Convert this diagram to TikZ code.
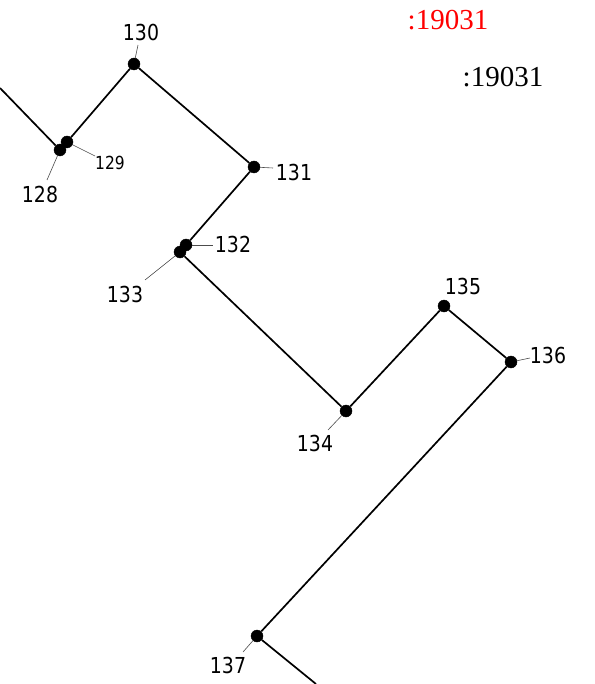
\documentclass[tikz,border=0pt]{standalone}
\usepackage{fontspec}
\setmainfont{Liberation Serif}
\newfontfamily\labelfont[FakeStretch=0.86]{DejaVu Sans}
\begin{document}
\begin{tikzpicture}[x=1pt,y=-1pt]
		\tikzset{vertex/.style = {shape=circle,draw, inner sep = 0pt, minimum size = 12pt, fill=black}}
		\tikzset{num/.style = {inner sep = 0pt, font=\labelfont\fontsize{22}{22}\selectfont}}
		\tikzset{smallnum/.style = {inner sep = 0pt, font=\labelfont\fontsize{18}{18}\selectfont}}
		\tikzset{leader/.style = {draw=black!70, line width=0.6pt}}
		\tikzset{edge/.style = {line width=1.7pt}}

		\useasboundingbox (0,0) rectangle (594,684);

		\node[vertex] (P_128) at (60,150) {};
		\node[vertex] (P_129) at (67,142) {};
		\node[vertex] (P_130) at (134,64) {};
		\node[vertex] (P_131) at (254,167) {};
		\node[vertex] (P_132) at (186,245) {};
		\node[vertex] (P_133) at (180,252) {};
		\node[vertex] (P_134) at (346,411) {};
		\node[vertex] (P_135) at (444,306) {};
		\node[vertex] (P_136) at (511,362) {};
		\node[vertex] (P_137) at (257,636) {};

		\coordinate (In) at (0,88);
		\coordinate (Out) at (316,684);

		\node[num] (L_128) at (40,194) {128};
		\node[smallnum] (L_129) at (110,163) {129};
		\node[num] (L_130) at (141,32) {130};
		\node[num] (L_131) at (294,172) {131};
		\node[num] (L_132) at (233,244) {132};
		\node[num] (L_133) at (125,294) {133};
		\node[num] (L_134) at (315,443) {134};
		\node[num] (L_135) at (463,286) {135};
		\node[num] (L_136) at (548,355) {136};
		\node[num] (L_137) at (228,665) {137};

		\coordinate (E_128) at (47,180);
		\coordinate (E_129) at (95,156);
		\coordinate (E_130) at (138,45);
		\coordinate (E_131) at (273,168);
		\coordinate (E_132) at (213,245);
		\coordinate (E_133) at (145,280);
		\coordinate (E_134) at (328,430);
		\coordinate (E_136) at (530,358);
		\coordinate (E_137) at (243,652);

		\node[text=red, font=\fontsize{29}{29}\selectfont, inner sep=0pt] (Red) at (448,20) {:19031};
		\node[font=\fontsize{29}{29}\selectfont, inner sep=0pt] (Black) at (503,77) {:19031};

		\draw[edge] (In)--(P_128);
		\draw[edge] (P_129)--(P_130);
		\draw[edge] (P_130)--(P_131);
		\draw[edge] (P_131)--(P_132);
		\draw[edge] (P_133)--(P_134);
		\draw[edge] (P_134)--(P_135);
		\draw[edge] (P_135)--(P_136);
		\draw[edge] (P_136)--(P_137);
		\draw[edge] (P_137)--(Out);

		\draw[leader] (P_128)--(E_128);
		\draw[leader] (P_129)--(E_129);
		\draw[leader] (P_130)--(E_130);
		\draw[leader] (P_131)--(E_131);
		\draw[leader] (P_132)--(E_132);
		\draw[leader] (P_133)--(E_133);
		\draw[leader] (P_134)--(E_134);
		\draw[leader] (P_136)--(E_136);
		\draw[leader] (P_137)--(E_137);

	\end{tikzpicture}
\end{document}
